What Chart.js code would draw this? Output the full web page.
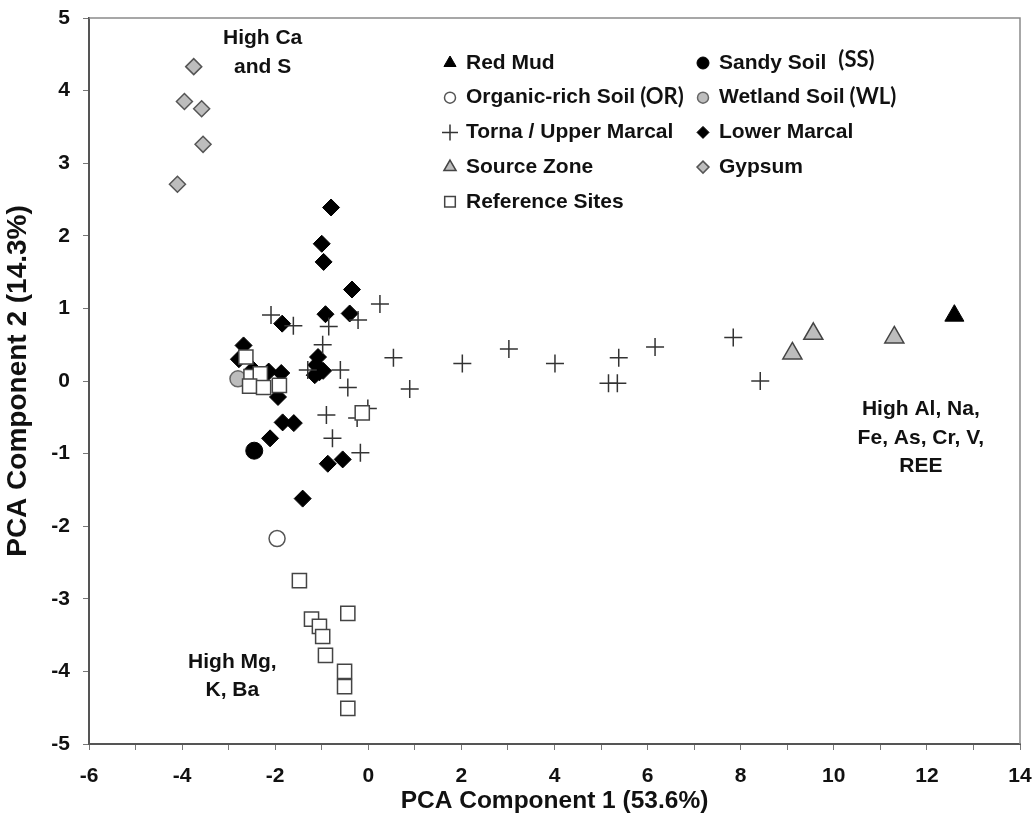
<!DOCTYPE html>
<html>
<head>
<meta charset="utf-8">
<script src="https://cdn.jsdelivr.net/npm/chart.js@4.4.0/dist/chart.umd.min.js"></script>
<style>
  html, body { margin: 0; padding: 0; background: #fff; }
  #wrap { width: 1035px; height: 819px; }
</style>
</head>
<body>
<div id="wrap"><canvas id="grafico" width="1035" height="819"></canvas></div>
<script>
// scores do PCA, [componente 1, componente 2] por grupo de amostras
const redMud = [[12.59, 0.90]];
const sandySoil = [[-2.45, -0.96]];
const organicSoil = [[-1.96, -2.17]];
const wetlandSoil = [[-2.80, 0.03]];
const tornaUpper = [
  [0.25, 1.06], [-0.22, 0.84], [0.54, 0.32], [2.02, 0.24], [3.02, 0.44],
  [4.01, 0.24], [5.38, 0.32], [6.16, 0.47], [5.16, -0.03], [5.35, -0.03],
  [0.89, -0.11], [-0.01, -0.38], [7.84, 0.60], [8.42, 0.00], [-2.09, 0.91],
  [-1.61, 0.76], [-0.85, 0.75], [-0.98, 0.50], [-0.60, 0.15], [-1.30, 0.15],
  [-0.44, -0.09], [-0.90, -0.47], [-0.24, -0.51], [-0.77, -0.79], [-0.17, -0.99]
];
const lowerMarcal = [
  [-0.80, 2.39], [-1.00, 1.89], [-0.96, 1.64], [-0.35, 1.26], [-0.92, 0.92],
  [-0.40, 0.93], [-1.85, 0.79], [-2.68, 0.49], [-2.78, 0.30], [-1.08, 0.33],
  [-1.12, 0.22], [-1.15, 0.08], [-0.97, 0.14], [-1.05, 0.12], [-2.48, 0.16],
  [-2.14, 0.13], [-1.87, 0.11], [-1.94, -0.22], [-1.84, -0.57], [-1.60, -0.58],
  [-2.11, -0.79], [-0.87, -1.14], [-0.55, -1.08], [-1.41, -1.62]
];
const sourceZone = [[9.56, 0.65], [9.11, 0.38], [11.30, 0.60]];
const gypsum = [[-3.75, 4.33], [-3.95, 3.85], [-3.58, 3.75], [-3.55, 3.26], [-4.10, 2.71]];
const referenceSites = [
  [-2.63, 0.33], [-2.52, 0.06], [-2.32, 0.10], [-2.55, -0.07], [-2.25, -0.09],
  [-1.91, -0.06], [-0.13, -0.44], [-1.48, -2.75], [-1.22, -3.28], [-1.05, -3.38],
  [-0.98, -3.52], [-0.44, -3.20], [-0.92, -3.78], [-0.51, -4.00], [-0.51, -4.21],
  [-0.44, -4.51]
];

const xRotulos = [-6, -4, -2, 0, 2, 4, 6, 8, 10, 12, 14];
const yRotulos = [-5, -4, -3, -2, -1, 0, 1, 2, 3, 4, 5];

const fonte = '"Liberation Sans", Arial, sans-serif';

// grupos na ordem da legenda (duas colunas, preenchidas por linha)
const grupos = [
  { label: 'Red Mud', pts: redMud, style: 'triangle', r: 11, rLeg: 7, fill: '#000', line: '#000', bw: 1, ordem: 5 },
  { label: 'Sandy Soil (SS)', pts: sandySoil, style: 'circle', r: 8.5, rLeg: 6, fill: '#000', line: '#000', bw: 1, ordem: 5 },
  { label: 'Organic-rich Soil (OR)', pts: organicSoil, style: 'circle', r: 8, rLeg: 5.5, fill: '#fff', line: '#555', bw: 1.5, ordem: 5 },
  { label: 'Wetland Soil (WL)', pts: wetlandSoil, style: 'circle', r: 8, rLeg: 5.5, fill: '#bdbdbd', line: '#666', bw: 1.5, ordem: 4 },
  { label: 'Torna / Upper Marcal', pts: tornaUpper, style: 'cross', r: 9, rLeg: 8, fill: '#333', line: '#333', bw: 1.5, ordem: 2 },
  { label: 'Lower Marcal', pts: lowerMarcal, style: 'rectRot', r: 8.5, rLeg: 6, fill: '#000', line: '#000', bw: 1, ordem: 3 },
  { label: 'Source Zone', pts: sourceZone, style: 'triangle', r: 11, rLeg: 7, fill: '#bdbdbd', line: '#444', bw: 1.5, ordem: 5 },
  { label: 'Gypsum', pts: gypsum, style: 'rectRot', r: 8, rLeg: 6, fill: '#bdbdbd', line: '#555', bw: 1.5, ordem: 5 },
  { label: 'Reference Sites', pts: referenceSites, style: 'rect', r: 10, rLeg: 7.5, fill: '#fff', line: '#444', bw: 1.5, ordem: 1 }
];

// textos explicativos dentro do grafico (posicao em unidades do PCA)
const notas = [
  { x: -2.27, y: 4.72, linhas: ['High Ca', 'and S'] },
  { x: -2.92, y: -3.87, linhas: ['High Mg,', 'K, Ba'] },
  { x: 11.87, y: -0.39, linhas: ['High Al, Na,', 'Fe, As, Cr, V,', 'REE'] }
];

function marcador(ctx, g, x, y) {
  ctx.fillStyle = g.fill;
  ctx.strokeStyle = g.line;
  ctx.lineWidth = g.bw;
  Chart.helpers.drawPoint(ctx, { pointStyle: g.style, radius: g.rLeg, rotation: 0, borderWidth: g.bw }, x, y);
}

const extras = {
  id: 'extras',
  afterDraw(chart) {
    const ctx = chart.ctx;
    const a = chart.chartArea;
    const sx = chart.scales.x, sy = chart.scales.y;
    ctx.save();

    // moldura de cima e da direita
    ctx.strokeStyle = '#8a8a8a';
    ctx.lineWidth = 1.5;
    ctx.beginPath();
    ctx.moveTo(a.left, a.top);
    ctx.lineTo(a.right, a.top);
    ctx.lineTo(a.right, a.bottom);
    ctx.stroke();

    // notas
    ctx.font = 'bold 21px ' + fonte;
    ctx.fillStyle = '#111';
    ctx.textAlign = 'center';
    ctx.textBaseline = 'middle';
    notas.forEach(function(n) {
      n.linhas.forEach(function(t, i) {
        ctx.fillText(t, sx.getPixelForValue(n.x), sy.getPixelForValue(n.y) + i * 28.5);
      });
    });

    // legenda
    ctx.textAlign = 'left';
    grupos.forEach(function(g, i) {
      const col = i % 2, lin = Math.floor(i / 2);
      const mx = a.left + (col === 0 ? 361 : 614);
      const my = a.top + 45 + lin * 34.7;
      marcador(ctx, g, mx, my);
      const m = g.label.match(/^(.*?)\s*(\([A-Z]+\))?$/);
      ctx.fillStyle = '#111';
      ctx.font = 'bold 21px ' + fonte;
      ctx.fillText(m[1], mx + 16, my);
      if (m[2]) {
        const w = ctx.measureText(m[1]).width;
        const gap = m[2] === '(SS)' ? 12 : 5;
        ctx.font = 'bold 22px Lato, "Open Sans", sans-serif';
        ctx.fillText(m[2], mx + 16 + w + gap, my - (m[2] === '(SS)' ? 3 : 1));
      }
    });
    ctx.restore();
  }
};

const datasets = grupos.map(function(g) {
  return {
    label: g.label,
    data: g.pts.map(p => ({ x: p[0], y: p[1] })),
    pointStyle: g.style,
    pointRadius: g.r,
    pointHoverRadius: g.r,
    backgroundColor: g.fill,
    borderColor: g.line,
    pointBorderWidth: g.bw,
    showLine: false,
    order: g.ordem
  };
});

const g = document.getElementById('grafico').getContext('2d');
new Chart(g, {
  type: 'scatter',
  data: { datasets: datasets },
  options: {
    responsive: false,
    devicePixelRatio: 1,
    animation: false,
    layout: { padding: { left: 0, right: 15, top: 18, bottom: 0 } },
    plugins: { legend: { display: false }, tooltip: { enabled: false } },
    scales: {
      x: {
        type: 'linear', min: -6, max: 14,
        ticks: {
          stepSize: 1, autoSkip: false, maxRotation: 0, padding: 14, color: '#111',
          font: { family: fonte, size: 21, weight: 'bold' },
          callback: v => xRotulos.includes(v) ? String(v) : ''
        },
        grid: { drawOnChartArea: false, drawTicks: true, tickLength: 6, tickColor: '#777', tickWidth: 1 },
        border: { display: true, color: '#555', width: 2 },
        title: {
          display: true, text: 'PCA Component 1 (53.6%)', color: '#111',
          font: { family: fonte, size: 24.5, weight: 'bold' }, padding: { top: 0, bottom: 3 }
        },
        afterFit: s => { s.height = 75; s.paddingLeft = 0; s.paddingRight = 0; }
      },
      y: {
        type: 'linear', min: -5, max: 5,
        ticks: {
          stepSize: 1, autoSkip: false, padding: 13, color: '#111',
          font: { family: fonte, size: 21, weight: 'bold' },
          callback: v => yRotulos.includes(v) ? String(v) : ''
        },
        grid: { drawOnChartArea: false, drawTicks: true, tickLength: 6, tickColor: '#777', tickWidth: 1 },
        border: { display: true, color: '#555', width: 2 },
        title: {
          display: true, text: 'PCA Component 2 (14.3%)', color: '#111',
          font: { family: fonte, size: 28, weight: 'bold' }, padding: { top: 1, bottom: 0 }
        },
        afterFit: s => { s.width = 89; s.paddingTop = 0; s.paddingBottom = 0; }
      }
    }
  },
  plugins: [extras]
});
</script>
</body>
</html>
